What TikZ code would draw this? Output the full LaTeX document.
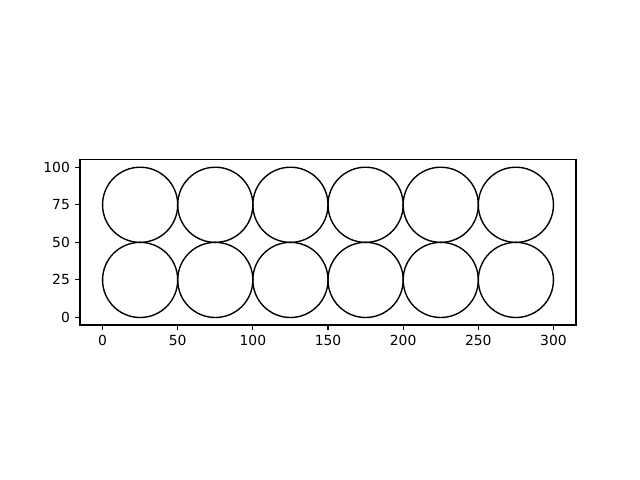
\documentclass[tikz,border=0pt]{standalone}
\usepackage{fontspec}
\setmainfont{DejaVu Sans}
\usepackage{tikz}
\usetikzlibrary{positioning}

\begin{document}
\begin{tikzpicture}[
    x=0.03006cm, y=0.03006cm,
    every node/.style={font=\fontsize{7.9}{9.5}\selectfont, inner sep=0pt},
    axisframe/.style={line width=0.63pt, black},
    tickmark/.style={line width=0.63pt, black},
    ring/.style={line width=0.79pt, black}
]
\useasboundingbox (-68.23,-108.06) rectangle (357.58,211.26);

% === Axes frame ===
\draw[axisframe] (-15,-5) rectangle (315,105);

% === Circles, top row ===
\draw[ring] (25,75) circle (25);
\draw[ring] (75,75) circle (25);
\draw[ring] (125,75) circle (25);
\draw[ring] (175,75) circle (25);
\draw[ring] (225,75) circle (25);
\draw[ring] (275,75) circle (25);

% === Circles, bottom row ===
\draw[ring] (25,25) circle (25);
\draw[ring] (75,25) circle (25);
\draw[ring] (125,25) circle (25);
\draw[ring] (175,25) circle (25);
\draw[ring] (225,25) circle (25);
\draw[ring] (275,25) circle (25);

% === x ticks ===
\foreach \xv in {0,50,100,150,200,250,300} {
    \draw[tickmark] (\xv,-5) -- ++(0,-3.23);
    \node[anchor=north] (xtick\xv) at (\xv,-11.5) {\xv};
}

% === y ticks ===
\foreach \yv in {0,25,50,75,100} {
    \draw[tickmark] (-15,\yv) -- ++(-3.23,0);
    \node[anchor=east] (ytick\yv) at (-21.5,\yv) {\yv};
}

\end{tikzpicture}
\end{document}
